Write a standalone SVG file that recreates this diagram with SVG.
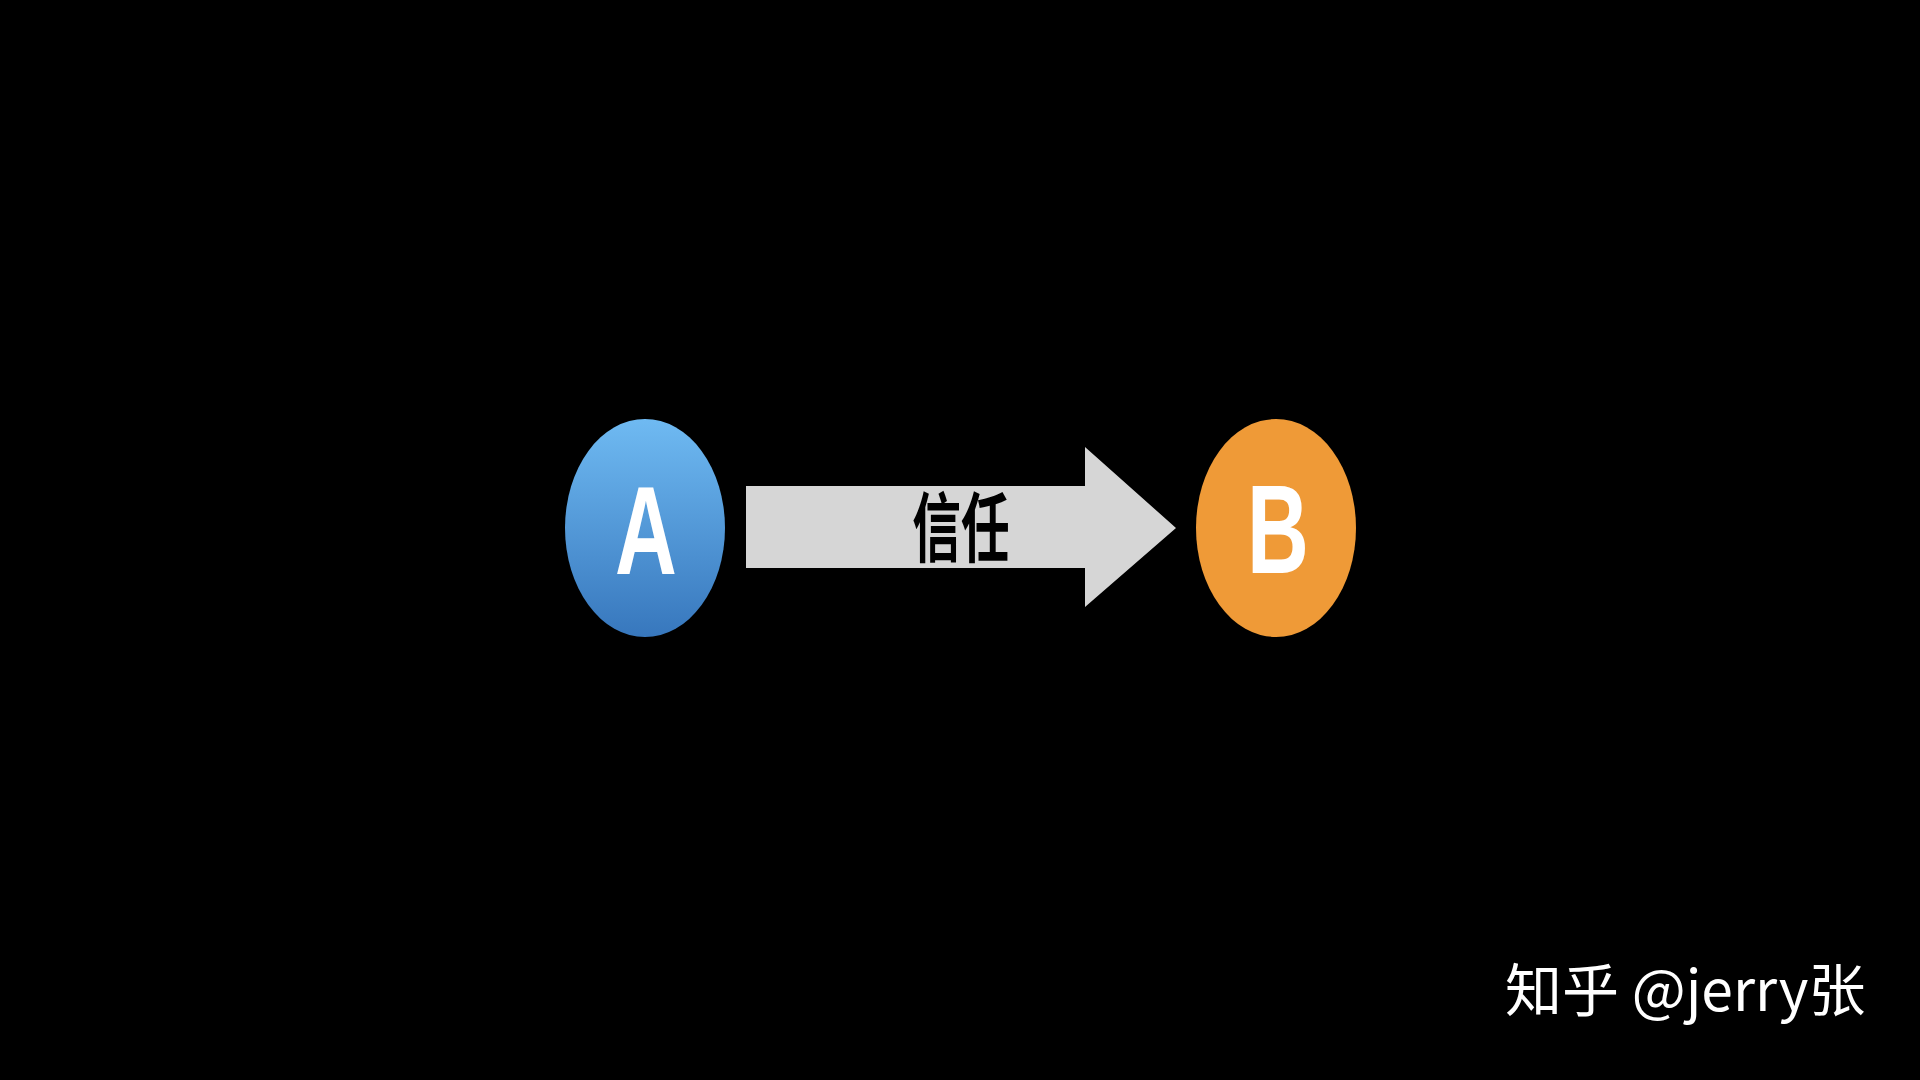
<svg xmlns="http://www.w3.org/2000/svg" width="1920" height="1080" viewBox="0 0 1920 1080">
<defs>
<linearGradient id="gA" x1="0" y1="0" x2="0" y2="1">
<stop offset="0" stop-color="#6fbaf2"/>
<stop offset="1" stop-color="#3777bd"/>
</linearGradient>
<style>
.letter{font-family:"Liberation Sans","DejaVu Sans",sans-serif;font-weight:bold;font-size:126px;fill:#fff;text-anchor:middle}
.lbl{font-family:"Noto Sans CJK SC",sans-serif;font-weight:bold;font-size:76px;fill:#000;text-anchor:middle}
.wm{font-family:"Noto Sans CJK SC",sans-serif;font-size:57px;fill:#fff}
</style>
</defs>
<rect width="1920" height="1080" fill="#000"/>
<g id="connectors">
<polygon points="746,486 1085,486 1085,447 1176,528 1085,607 1085,568 746,568" fill="#d6d6d6"/>
<text class="lbl" transform="translate(961,556) scale(0.64,1)" x="0" y="0">信任</text>
</g>
<g id="nodeA">
<ellipse cx="645" cy="528" rx="80" ry="109" fill="url(#gA)"/>
<text class="letter" transform="translate(646,574) scale(0.68,1)">A</text>
</g>
<g id="nodeB">
<ellipse cx="1276" cy="528" rx="80" ry="109" fill="#ef9a37"/>
<text class="letter" transform="translate(1278,573) scale(0.68,1)">B</text>
</g>
<g id="watermark">
<text class="wm" x="1505" y="1011">知乎 @jerry张</text>
</g>
</svg>
